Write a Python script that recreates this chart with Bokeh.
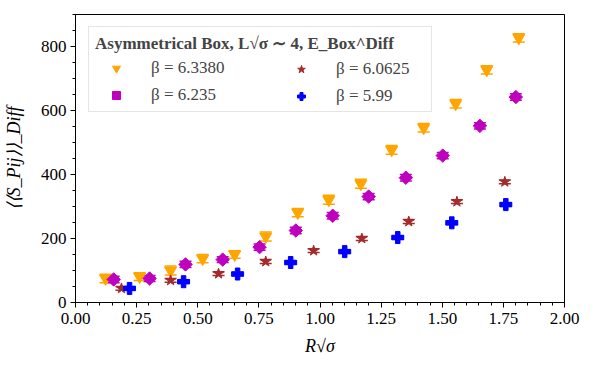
from bokeh.plotting import figure
from bokeh.models import (ColumnDataSource, Whisker, TeeHead, Legend, LegendItem,
                          FixedTicker, NumeralTickFormatter, Range1d)
from bokeh.embed import file_html
from bokeh.resources import INLINE

# beta = 6.3380
x_6338 = [0.123, 0.262, 0.389, 0.520, 0.651, 0.778, 0.909, 1.036, 1.167, 1.293, 1.424, 1.555, 1.682, 1.813]
y_6338 = [75, 81, 100, 137, 150, 206, 281, 321, 371, 477, 546, 621, 727, 827]
e_6338 = [13, 12, 14, 13, 12, 14, 13, 14, 14, 14, 13, 13, 13, 13]
# beta = 6.235
x_6235 = [0.156, 0.303, 0.450, 0.602, 0.753, 0.901, 1.052, 1.199, 1.351, 1.502, 1.654, 1.801]
y_6235 = [72, 75, 119, 134, 173, 225, 271, 331, 390, 459, 552, 642]
e_6235 = [10, 9, 10, 9, 10, 10, 10, 10, 10, 10, 10, 10]
# beta = 6.0625
x_60625 = [0.188, 0.389, 0.585, 0.778, 0.974, 1.171, 1.363, 1.560, 1.756]
y_60625 = [44, 69, 90, 128, 162, 200, 253, 315, 377]
e_60625 = [6, 6, 6, 6, 6, 6, 6, 6, 6]
# beta = 5.99
x_599 = [0.221, 0.442, 0.663, 0.880, 1.101, 1.318, 1.539, 1.760]
y_599 = [44, 65, 89, 125, 159, 203, 249, 306]
e_599 = [5, 5, 5, 5, 5, 5, 5, 5]

labels = ["β = 6.3380", "β = 6.235", "β = 6.0625", "β = 5.99"]
colors = ["#FFA500", "#BF00BF", "#A52A2A", "#0000FF"]
markers = ["inverted_triangle", "square", "star", "plus"]
sizes = [12, 9.5, 11, 12]
angles = [0, 0.785398, 0, 0]

x_ticks = [0.0, 0.25, 0.5, 0.75, 1.0, 1.25, 1.5, 1.75, 2.0]
y_ticks = [0, 200, 400, 600, 800]

SERIF = "Liberation Serif"

p = figure(width=584, height=362, output_backend="svg", toolbar_location=None,
           x_range=Range1d(0, 2), y_range=Range1d(0, 900),
           min_border_left=75, min_border_right=20, min_border_top=14, min_border_bottom=60)
p.xgrid.visible = False
p.ygrid.visible = False
p.outline_line_color = "black"
p.outline_line_alpha = 1.0
p.outline_line_width = 1

series = [(x_6338, y_6338, e_6338), (x_6235, y_6235, e_6235),
          (x_60625, y_60625, e_60625), (x_599, y_599, e_599)]
renderers = []
for (xs, ys, es), c, m, s, a in zip(series, colors, markers, sizes, angles):
    src = ColumnDataSource(dict(x=xs, y=ys,
                                upper=[u + v for u, v in zip(ys, es)],
                                lower=[u - v for u, v in zip(ys, es)]))
    w = Whisker(source=src, base="x", upper="upper", lower="lower",
                line_color=c, line_width=1.5,
                upper_head=TeeHead(size=12, line_color=c, line_width=1.5),
                lower_head=TeeHead(size=12, line_color=c, line_width=1.5))
    p.add_layout(w)
    r = p.scatter("x", "y", source=src, marker=m, size=s, angle=a,
                  fill_color=c, line_color=c)
    renderers.append(r)

p.xaxis.major_label_text_font = SERIF
p.yaxis.major_label_text_font = SERIF
p.xaxis.major_label_text_font_size = "17px"
p.yaxis.major_label_text_font_size = "17px"
p.xaxis.major_label_text_color = "black"
p.yaxis.major_label_text_color = "black"
p.xaxis.axis_label_text_font = SERIF
p.yaxis.axis_label_text_font = SERIF
p.xaxis.axis_label_text_font_style = "italic"
p.yaxis.axis_label_text_font_style = "italic"
p.xaxis.axis_label_text_font_size = "18px"
p.yaxis.axis_label_text_font_size = "18px"
p.xaxis.axis_label_text_color = "black"
p.yaxis.axis_label_text_color = "black"
p.xaxis.major_tick_in = 0
p.yaxis.major_tick_in = 0
p.xaxis.major_tick_out = 5
p.yaxis.major_tick_out = 5
p.xaxis.minor_tick_in = 0
p.yaxis.minor_tick_in = 0
p.xaxis.minor_tick_out = 3
p.yaxis.minor_tick_out = 3
p.xaxis.axis_line_color = "black"
p.yaxis.axis_line_color = "black"
p.xaxis.major_tick_line_color = "black"
p.yaxis.major_tick_line_color = "black"
p.xaxis.minor_tick_line_color = "black"
p.yaxis.minor_tick_line_color = "black"

p.xaxis.ticker = FixedTicker(ticks=x_ticks,
                             minor_ticks=[i * 0.05 for i in range(41)])
p.xaxis.formatter = NumeralTickFormatter(format="0.00")
p.yaxis.ticker = FixedTicker(ticks=y_ticks,
                             minor_ticks=[i * 50 for i in range(19)])
p.xaxis.axis_label = "R√σ"
p.yaxis.axis_label = "⟨⟨S_Pij⟩⟩_Diff"
p.xaxis.axis_label_standoff = 9
p.yaxis.axis_label_standoff = 14
p.xaxis.major_label_standoff = 5
p.yaxis.major_label_standoff = 4

leg1 = Legend(items=[LegendItem(label=labels[0], renderers=[renderers[0]]),
                     LegendItem(label=labels[1], renderers=[renderers[1]])],
              location=(13, 190), margin=0, padding=6, spacing=7,
              glyph_width=42, glyph_height=20, label_standoff=14, label_width=274,
              title="Asymmetrical Box, L√σ ∼ 4, E_Box^Diff",
              title_text_font=SERIF, title_text_font_style="bold",
              title_text_font_size="17px", title_standoff=4,
              border_line_color="#cccccc", border_line_width=1,
              background_fill_color="white", background_fill_alpha=0.8)
leg1.label_text_font = SERIF
leg1.label_text_font_size = "17px"
leg2 = Legend(items=[LegendItem(label=labels[2], renderers=[renderers[2]]),
                     LegendItem(label=labels[3], renderers=[renderers[3]])],
              location=(205, 196), margin=0, padding=0, spacing=7,
              glyph_width=42, glyph_height=20, label_standoff=14,
              border_line_alpha=0, background_fill_alpha=0)
leg2.label_text_font = SERIF
leg2.label_text_font_size = "17px"
p.add_layout(leg1)
p.add_layout(leg2)

open("out.html", "w").write(file_html(p, INLINE))
